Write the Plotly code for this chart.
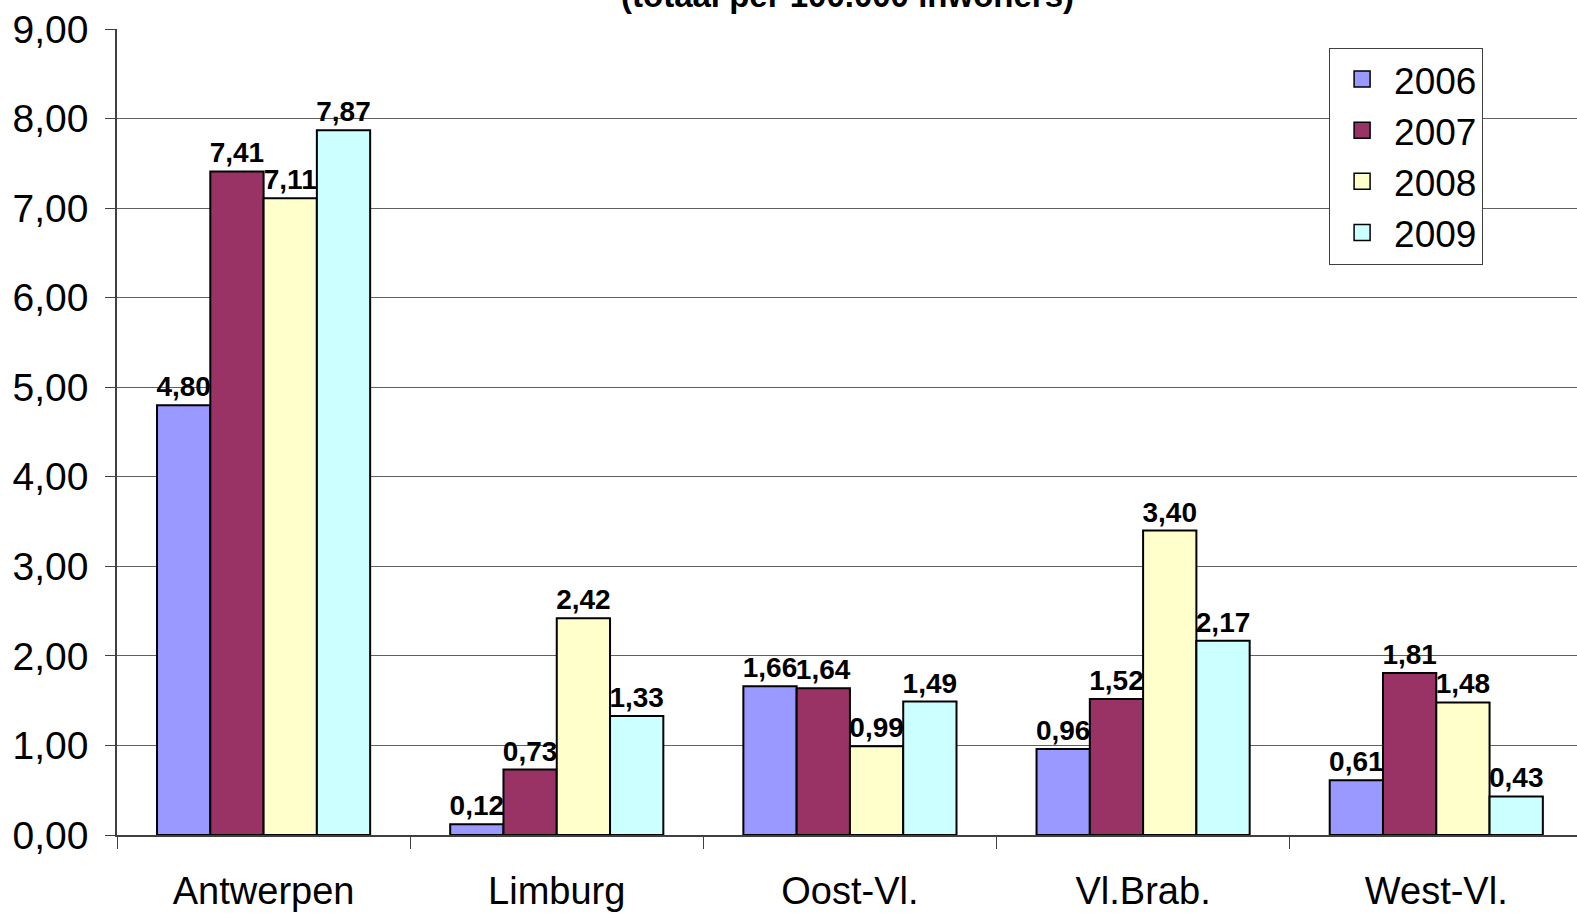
import plotly.graph_objects as go

provinces = ["Antwerpen", "Limburg", "Oost-Vl.", "Vl.Brab.", "West-Vl."]
years = ["2006", "2007", "2008", "2009"]
values_2006 = [4.80, 0.12, 1.66, 0.96, 0.61]
values_2007 = [7.41, 0.73, 1.64, 1.52, 1.81]
values_2008 = [7.11, 2.42, 0.99, 3.40, 1.48]
values_2009 = [7.87, 1.33, 1.49, 2.17, 0.43]
colors = ["#9999FF", "#993366", "#FFFFCC", "#CCFFFF"]

series = [values_2006, values_2007, values_2008, values_2009]

fig = go.Figure()
for year, vals, col in zip(years, series, colors):
    fig.add_trace(
        go.Bar(
            name=year,
            x=provinces,
            y=vals,
            marker=dict(color=col, line=dict(color="black", width=2)),
            texttemplate="%{y:.2f}",
            textposition="outside",
            constraintext="none",
            cliponaxis=False,
            textfont=dict(family="Liberation Sans", size=28, color="black", weight="bold"),
            showlegend=False,
        )
    )

# legend entries with bigger square swatches than the bar default
for year, col in zip(years, colors):
    fig.add_trace(
        go.Scatter(
            name=year,
            x=[None],
            y=[None],
            mode="markers",
            marker=dict(symbol="square", size=16, color=col, line=dict(color="black", width=1.5)),
        )
    )

fig.add_annotation(
    text="<b>(totaal per 100.000 inwoners)</b>",
    xref="paper", yref="paper",
    x=0.5, y=1.041,
    xanchor="center", yanchor="middle",
    showarrow=False,
    font=dict(family="Liberation Sans", size=33, color="black"),
)

fig.update_layout(
    width=1577,
    height=916,
    margin=dict(l=117, r=0, t=29, b=81),
    paper_bgcolor="white",
    plot_bgcolor="white",
    separators=",.",
    barmode="group",
    bargap=0.273,
    bargroupgap=0,
    font=dict(family="Liberation Sans", color="black"),
    legend=dict(
        x=0.8302, y=0.977,
        xanchor="left", yanchor="top",
        bgcolor="white",
        bordercolor="#404040",
        borderwidth=1,
        font=dict(size=37),
        itemwidth=54,
        tracegroupgap=0,
    ),
    xaxis=dict(
        range=[-0.5, 4.48],
        tickson="boundaries",
        ticks="outside",
        ticklen=12,
        tickcolor="#404040",
        showline=True,
        linecolor="#404040",
        linewidth=1.5,
        tickfont=dict(size=38),
        ticklabelstandoff=22,
        showgrid=False,
    ),
    yaxis=dict(
        range=[0, 9],
        dtick=1,
        tickformat=".2f",
        ticks="outside",
        ticklen=10,
        tickcolor="#404040",
        showline=True,
        linecolor="#404040",
        linewidth=1.5,
        showgrid=True,
        gridcolor="#606060",
        gridwidth=1,
        zeroline=False,
        tickfont=dict(size=39),
        ticklabelstandoff=9,
    ),
)

fig.write_html(
    "out.html",
    config={"displayModeBar": False},
    post_script="document.body.style.margin='0';",
)
